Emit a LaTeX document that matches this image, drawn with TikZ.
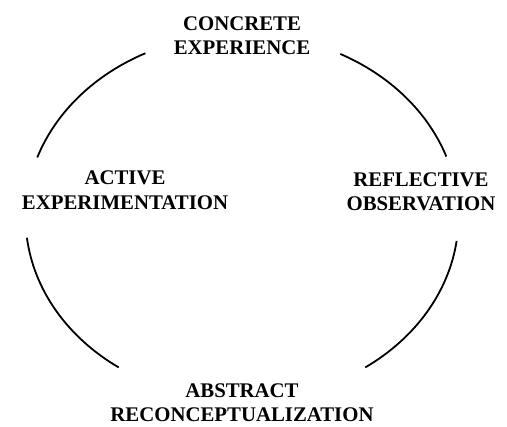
\documentclass[tikz,border=0pt]{standalone}
\usepackage{fontspec}
\setmainfont{Liberation Serif}
\usetikzlibrary{positioning}
\tikzset{stage node/.style={font=\bfseries\fontsize{15.6}{18.4}\selectfont,align=center,inner sep=0pt},}
\tikzset{cycle arc/.style={draw,line width=1.35pt},}

\begin{document}
\begin{tikzpicture}[x=0.75pt,y=0.75pt]
       \useasboundingbox (0,0) rectangle (507,426);
       \coordinate (c) at (242,209);

       \node[stage node] (ce) at (242,390.5) {CONCRETE\\EXPERIENCE};
       \node[stage node] (ro) at (421,234) {REFLECTIVE\\OBSERVATION};
       \node[stage node] (ae) at (125,236) {ACTIVE\\EXPERIMENTATION};
       \node[stage node] (ar) [below = 246pt of ce] {ABSTRACT\\RECONCEPTUALIZATION};

       \path[cycle arc] (c) ++(161:216.5 and 183) arc[start angle=161, end angle=116.5, x radius=216.5, y radius=183]
             (c) ++(63:216.5 and 183) arc[start angle=63, end angle=19.3, x radius=216.5, y radius=183]
             (c) ++(352.5:216.5 and 183) arc[start angle=352.5, end angle=304.7, x radius=216.5, y radius=183]
             (c) ++(235.3:216.5 and 183) arc[start angle=235.3, end angle=186.5, x radius=216.5, y radius=183];
    \end{tikzpicture}
\end{document}
